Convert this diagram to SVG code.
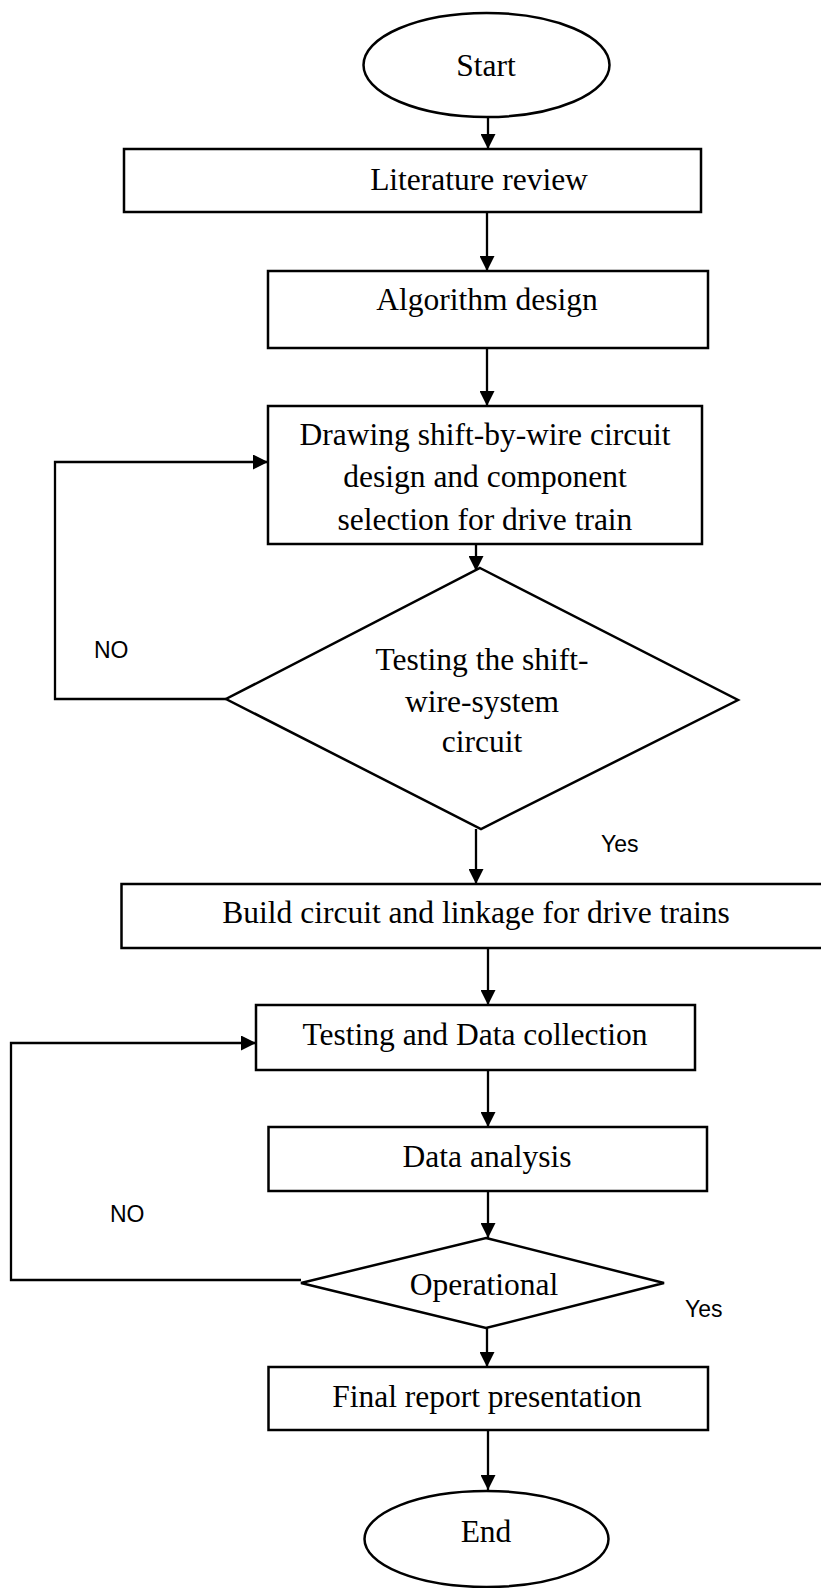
<svg xmlns="http://www.w3.org/2000/svg" width="821" height="1588" viewBox="0 0 821 1588">
  <style>
    .shape { fill: #ffffff; stroke: #000000; stroke-width: 2.5; }
    .label { font-family: "Liberation Serif", "Times New Roman", serif; font-size: 31.5px; fill: #000000; text-anchor: middle; }
    .tag { font-family: "Liberation Sans", Arial, sans-serif; font-size: 23px; fill: #000000; }
    .wire { fill: none; stroke: #000000; stroke-width: 2.3; }
  </style>
  <defs>
    <marker id="arrow" viewBox="0 0 15 15" refX="15" refY="7.5" markerWidth="15" markerHeight="15" markerUnits="userSpaceOnUse" orient="auto">
      <path d="M0,0 L15,7.5 L0,15 Z" fill="#000000"/>
    </marker>
  </defs>
  <rect width="821" height="1588" fill="#ffffff"/>

  <g id="connectors">
    <line class="wire" x1="488" y1="117" x2="488" y2="149" marker-end="url(#arrow)"/>
    <line class="wire" x1="487" y1="212" x2="487" y2="271" marker-end="url(#arrow)"/>
    <line class="wire" x1="487" y1="348" x2="487" y2="406" marker-end="url(#arrow)"/>
    <line class="wire" x1="476" y1="544" x2="476" y2="571" marker-end="url(#arrow)"/>
    <polyline class="wire" points="226,699 55,699 55,462 268,462" marker-end="url(#arrow)"/>
    <line class="wire" x1="476" y1="829" x2="476" y2="884" marker-end="url(#arrow)"/>
    <line class="wire" x1="488" y1="948" x2="488" y2="1005" marker-end="url(#arrow)"/>
    <line class="wire" x1="488" y1="1070" x2="488" y2="1127" marker-end="url(#arrow)"/>
    <line class="wire" x1="488" y1="1191" x2="488" y2="1238" marker-end="url(#arrow)"/>
    <polyline class="wire" points="301,1280 11,1280 11,1043 256,1043" marker-end="url(#arrow)"/>
    <line class="wire" x1="487" y1="1328" x2="487" y2="1367" marker-end="url(#arrow)"/>
    <line class="wire" x1="488" y1="1430" x2="488" y2="1490" marker-end="url(#arrow)"/>
  </g>

  <g id="start">
    <ellipse class="shape" cx="486.5" cy="65" rx="123" ry="52"/>
    <text class="label" x="486" y="76">Start</text>
  </g>

  <g id="literature-review">
    <rect class="shape" x="124" y="149" width="577" height="63"/>
    <text class="label" x="479" y="190">Literature review</text>
  </g>

  <g id="algorithm-design">
    <rect class="shape" x="268" y="271" width="440" height="77"/>
    <text class="label" x="487" y="310">Algorithm design</text>
  </g>

  <g id="circuit-design">
    <rect class="shape" x="268" y="406" width="434" height="138"/>
    <text class="label" x="485" y="445">Drawing shift-by-wire circuit</text>
    <text class="label" x="485" y="487">design and component</text>
    <text class="label" x="485" y="530">selection for drive train</text>
  </g>

  <g id="circuit-test">
    <polygon class="shape" points="480,568 738,700 481,829 226,699"/>
    <text class="label" x="482" y="670">Testing the shift-</text>
    <text class="label" x="482" y="712">wire-system</text>
    <text class="label" x="482" y="752">circuit</text>
    <text class="tag" x="94" y="658">NO</text>
    <text class="tag" x="601" y="852">Yes</text>
  </g>

  <g id="build-circuit">
    <rect class="shape" x="121.5" y="884" width="710" height="64"/>
    <text class="label" x="476" y="923">Build circuit and linkage for drive trains</text>
  </g>

  <g id="data-collection">
    <rect class="shape" x="256" y="1005" width="439" height="65"/>
    <text class="label" x="475" y="1045">Testing and Data collection</text>
  </g>

  <g id="data-analysis">
    <rect class="shape" x="268.5" y="1127" width="438.5" height="64"/>
    <text class="label" x="487" y="1167">Data analysis</text>
  </g>

  <g id="operational">
    <polygon class="shape" points="486,1238 664,1283 486,1328 301,1283"/>
    <text class="label" x="484" y="1295">Operational</text>
    <text class="tag" x="110" y="1222">NO</text>
    <text class="tag" x="685" y="1317">Yes</text>
  </g>

  <g id="final-report">
    <rect class="shape" x="268.5" y="1367" width="439.5" height="63"/>
    <text class="label" x="487" y="1407">Final report presentation</text>
  </g>

  <g id="end">
    <ellipse class="shape" cx="486.5" cy="1539" rx="122" ry="48"/>
    <text class="label" x="486" y="1542">End</text>
  </g>
</svg>
